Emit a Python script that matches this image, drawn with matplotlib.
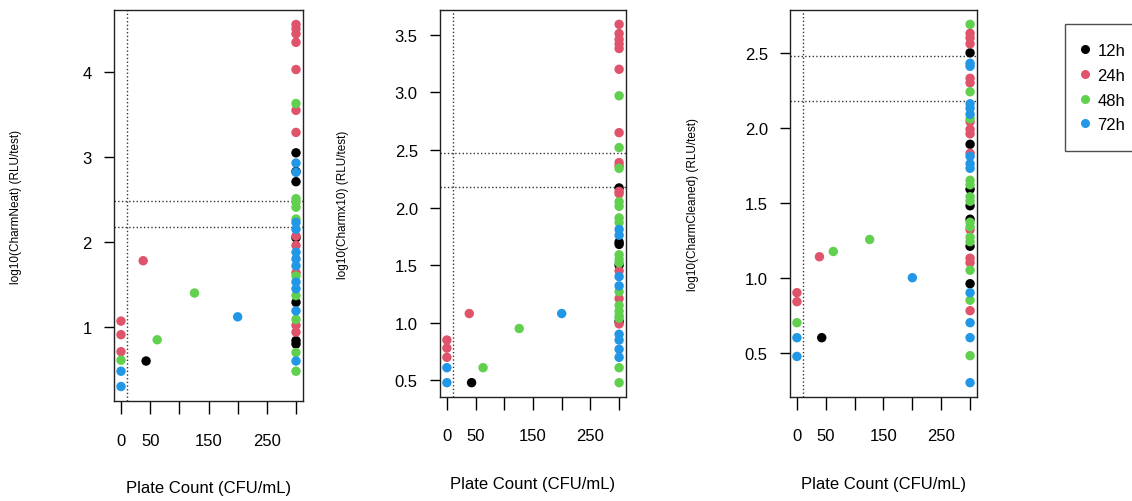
import numpy as np
import matplotlib.pyplot as plt
from matplotlib.lines import Line2D

plt.rcParams['font.family'] = ['Liberation Sans', 'DejaVu Sans']

groups = ['12h', '24h', '48h', '72h']
colors = {'12h': '#000000', '24h': '#DF536B', '48h': '#61D04F', '72h': '#2297E6'}

# countable plates
neat_x = [0, 0, 0, 0, 0, 0, 38, 43, 62, 126, 200]
neat_y = [1.07, 0.91, 0.71, 0.61, 0.48, 0.30, 1.78, 0.60, 0.85, 1.40, 1.12]
neat_g = ['24h', '24h', '24h', '48h', '72h', '72h', '24h', '12h', '48h', '48h', '72h']

x10_x = [0, 0, 0, 0, 0, 39, 43, 63, 126, 200]
x10_y = [0.85, 0.78, 0.70, 0.61, 0.48, 1.08, 0.48, 0.61, 0.95, 1.08]
x10_g = ['24h', '24h', '24h', '72h', '72h', '24h', '12h', '48h', '48h', '72h']

clean_x = [0, 0, 0, 0, 0, 39, 43, 63, 126, 200]
clean_y = [0.90, 0.84, 0.70, 0.60, 0.475, 1.14, 0.60, 1.175, 1.255, 1.00]
clean_g = ['24h', '24h', '48h', '72h', '72h', '24h', '12h', '48h', '48h', '72h']

# too many to count -> plotted at 300
tntc = 300
neat_12h = [3.05, 2.83, 2.71, 2.05, 1.29, 0.84, 0.80]
neat_24h = [4.56, 4.51, 4.45, 4.35, 4.03, 3.55, 3.29, 2.07, 1.96, 1.64, 1.02, 0.94]
neat_48h = [3.63, 2.51, 2.47, 2.41, 2.27, 1.60, 1.37, 1.09, 0.70, 0.48]
neat_72h = [2.93, 2.82, 2.23, 2.15, 1.88, 1.80, 1.72, 1.53, 1.45, 1.19, 0.60]

x10_12h = [2.17, 1.70, 1.68, 1.50, 1.01]
x10_24h = [3.59, 3.51, 3.46, 3.42, 3.38, 3.20, 2.65, 2.39, 2.36, 2.14, 2.12, 1.45, 1.21, 0.99]
x10_48h = [2.97, 2.52, 2.34, 2.05, 2.01, 1.91, 1.87, 1.59, 1.55, 1.52, 1.27, 1.15, 1.10,
           1.06, 1.04, 0.61, 0.48]
x10_72h = [1.81, 1.76, 1.40, 1.32, 0.90, 0.85, 0.77, 0.70]

clean_12h = [2.50, 1.89, 1.59, 1.48, 1.39, 1.21, 0.96]
clean_24h = [2.63, 2.60, 2.56, 2.33, 2.30, 2.04, 1.99, 1.96, 1.83, 1.32, 1.13, 1.10, 0.78]
clean_48h = [2.69, 2.24, 2.06, 1.65, 1.62, 1.54, 1.51, 1.37, 1.34, 1.27, 1.24, 1.05, 0.85, 0.48]
clean_72h = [2.43, 2.41, 2.16, 2.13, 2.09, 1.81, 1.76, 1.73, 0.90, 0.70, 0.60, 0.30]

xticks = [0, 50, 100, 150, 200, 250, 300]
xticklabels = ['0', '50', '', '150', '', '250', '']
cut_x = 10
cut_y = [np.log10(300), np.log10(150)]

fig = plt.figure(figsize=(11.32, 5.02), dpi=100)


def panel(rect, lx, ly, lg, col, yticks, ylabel, ylab_x, xlab_y, xpad):
    ax = fig.add_axes(rect)
    for g in groups:
        xs = [x for x, gg in zip(lx, lg) if gg == g]
        ys = [y for y, gg in zip(ly, lg) if gg == g]
        ax.scatter(xs, ys, s=46, c=colors[g], edgecolors='none', zorder=3)
        ax.scatter([tntc] * len(col[g]), col[g], s=46, c=colors[g],
                   edgecolors='none', zorder=3)
    ally = list(ly) + sum(col.values(), [])
    lo, hi = min(ally), max(ally)
    pad = 0.04 * (hi - lo)
    ax.set_ylim(lo - pad, hi + pad)
    ax.set_xlim(-12, 312)
    ax.axvline(cut_x, color='#333333', ls=':', lw=1, zorder=2)
    for c in cut_y:
        ax.axhline(c, color='#333333', ls=':', lw=1, zorder=2)
    ax.set_xticks(xticks)
    ax.set_xticklabels(xticklabels, fontsize=12)
    ax.set_yticks(yticks)
    ax.set_yticklabels([('%g' % t) if t == int(t) and yticks[1] - yticks[0] >= 1
                        else '%.1f' % t for t in yticks], fontsize=12)
    ax.tick_params(axis='x', length=9, width=1, pad=xpad)
    ax.tick_params(axis='y', length=7, width=1, pad=9)
    for sp in ax.spines.values():
        sp.set_linewidth(1)
        sp.set_color('#222222')
    fig.text(ylab_x, rect[1] + rect[3] * 0.5, ylabel, rotation=90,
             ha='center', va='center', fontsize=8.5)
    fig.text(rect[0] + rect[2] / 2, xlab_y, 'Plate Count (CFU/mL)',
             ha='center', va='center', fontsize=12)
    return ax


panel([114 / 1132, 100 / 502, 189 / 1132, 391 / 502], neat_x, neat_y, neat_g,
      {'12h': neat_12h, '24h': neat_24h, '48h': neat_48h, '72h': neat_72h},
      [1, 2, 3, 4], 'log10(CharmNeat) (RLU/test)', 16 / 1132, 1 - 489 / 502, 14)
panel([440 / 1132, 104 / 502, 186 / 1132, 387 / 502], x10_x, x10_y, x10_g,
      {'12h': x10_12h, '24h': x10_24h, '48h': x10_48h, '72h': x10_72h},
      [0.5, 1.0, 1.5, 2.0, 2.5, 3.0, 3.5], 'log10(Charmx10) (RLU/test)',
      343 / 1132, 1 - 485 / 502, 13)
panel([790 / 1132, 104 / 502, 187 / 1132, 387 / 502], clean_x, clean_y, clean_g,
      {'12h': clean_12h, '24h': clean_24h, '48h': clean_48h, '72h': clean_72h},
      [0.5, 1.0, 1.5, 2.0, 2.5], 'log10(CharmCleaned) (RLU/test)',
      693 / 1132, 1 - 485 / 502, 13)

handles = [Line2D([], [], ls='none', marker='o', ms=6.5, mfc=colors[g], mec='none')
           for g in groups]
leg = fig.legend(handles, groups, loc='upper left',
                 bbox_to_anchor=(1065 / 1132, 1 - 25 / 502), fontsize=12,
                 frameon=True, fancybox=False, edgecolor='#222222',
                 handlelength=0.1, handletextpad=0.7, borderpad=1.15,
                 labelspacing=0.58, borderaxespad=0)
leg.get_frame().set_linewidth(1)

fig.savefig('out.png', dpi=100)
